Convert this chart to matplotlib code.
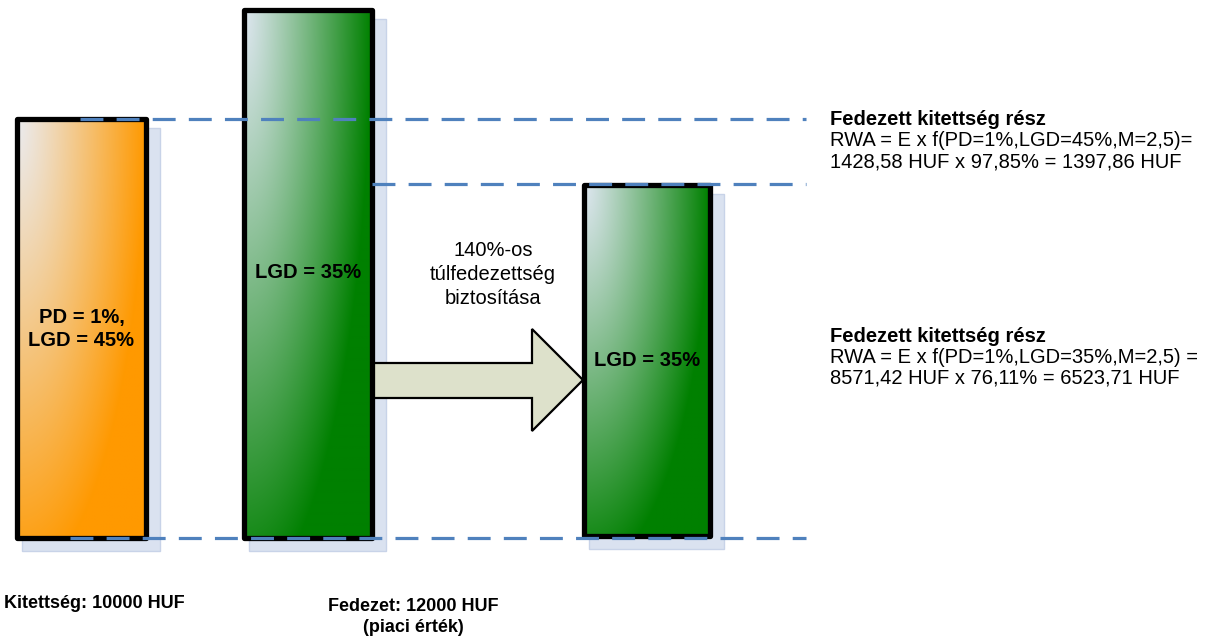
import numpy as np
import matplotlib.pyplot as plt
from matplotlib.patches import Rectangle, Polygon
from matplotlib.colors import to_rgb

plt.rcParams['font.family'] = ['Liberation Sans', 'DejaVu Sans']
plt.rcParams['lines.scale_dashes'] = False

# bars of the schematic (canvas units, y grows downward)
bar_names = ['Kitettség', 'Fedezet', 'Fedezett rész']
bar_labels = ['PD = 1%,\nLGD = 45%', 'LGD = 35%', 'LGD = 35%']
bar_top = [119, 10, 185]
bar_bottom = [538, 538, 536]
bar_colors = ['#ff9900', '#008000', '#008000']
bar_light = ['#ebebee', '#dde6ef', '#dde6ef']

# reference levels (dashed)
level_y = [119, 184, 538]
level_x0 = [80, 372, 70]

arrow_text = ['140%-os', 'túlfedezettség', 'biztosítása']
note_head = 'Fedezett kitettség rész'
note1 = ['RWA = E x f(PD=1%,LGD=45%,M=2,5)=', '1428,58 HUF x 97,85% = 1397,86 HUF']
note2 = ['RWA = E x f(PD=1%,LGD=35%,M=2,5) =', '8571,42 HUF x 76,11% = 6523,71 HUF']
bottom_labels = ['Kitettség: 10000 HUF', 'Fedezet: 12000 HUF\n(piaci érték)']

fig = plt.figure(figsize=(12.09, 6.41), dpi=100)
ax = fig.add_axes([0, 0, 1, 1])
ax.set_xlim(0, 1209)
ax.set_ylim(641, 0)
ax.axis('off')

bar_x = [(17, 146), (244, 372), (584, 710)]
label_y = [329, 272, 360]


def gradient(c0, c1, ny=240, nx=90):
    # light corner at top-left, full colour toward right and bottom
    u = np.linspace(0, 1, nx)[None, :]
    v = np.linspace(0, 1, ny)[:, None]
    t = np.clip(np.sqrt(u ** 2 + (0.9 * v) ** 2), 0, 1) ** 1.1
    a, b = np.array(to_rgb(c0)), np.array(to_rgb(c1))
    return a + (b - a) * t[..., None]


for i in range(3):
    x0, x1 = bar_x[i]
    y0, y1 = bar_top[i], bar_bottom[i]
    # soft shadow behind each bar
    ax.add_patch(Rectangle((x0 + 5, y0 + 9), x1 - x0 + 9, y1 - y0 + 4,
                           facecolor='#dae2f0', edgecolor='#c8d3e8', lw=1, zorder=1))
    ax.imshow(gradient(bar_light[i], bar_colors[i]), extent=(x0, x1, y1, y0),
              aspect='auto', zorder=2, interpolation='bilinear')
    ax.add_patch(Rectangle((x0, y0), x1 - x0, y1 - y0, facecolor='none',
                           edgecolor='black', lw=3.8, joinstyle='round', zorder=4))
    ax.text((x0 + x1) / 2, label_y[i], bar_labels[i], ha='center', va='center',
            fontsize=14.5, fontweight='bold', linespacing=1.2, zorder=5)

# arrow between the green bars
arrow = Polygon([(372, 363), (532, 363), (532, 329), (583, 380),
                 (532, 431), (532, 398), (372, 398)], closed=True,
                facecolor='#dde1cb', edgecolor='black', lw=1.6, zorder=3)
ax.add_patch(arrow)
for k, s in enumerate(arrow_text):
    ax.text(493, 250 + k * 24, s, ha='center', va='center', fontsize=14.5, zorder=5)

for y, x0 in zip(level_y, level_x0):
    ax.plot([x0, 806], [y, y], color='#4f81bd', lw=2.3, dashes=(16.5, 9.5),
            solid_capstyle='butt', dash_capstyle='butt', zorder=6)

for base, lines in [(125, note1), (342, note2)]:
    ax.text(830, base, note_head, ha='left', va='baseline', fontsize=14.5,
            fontweight='bold')
    for k, s in enumerate(lines):
        ax.text(830, base + 21 * (k + 1), s, ha='left', va='baseline', fontsize=14.5)

ax.text(94, 604, bottom_labels[0], ha='center', va='center', fontsize=13,
        fontweight='bold')
ax.text(413, 617, bottom_labels[1], ha='center', va='center', fontsize=13,
        fontweight='bold', linespacing=1.3)

fig.savefig('out.png', dpi=100)
